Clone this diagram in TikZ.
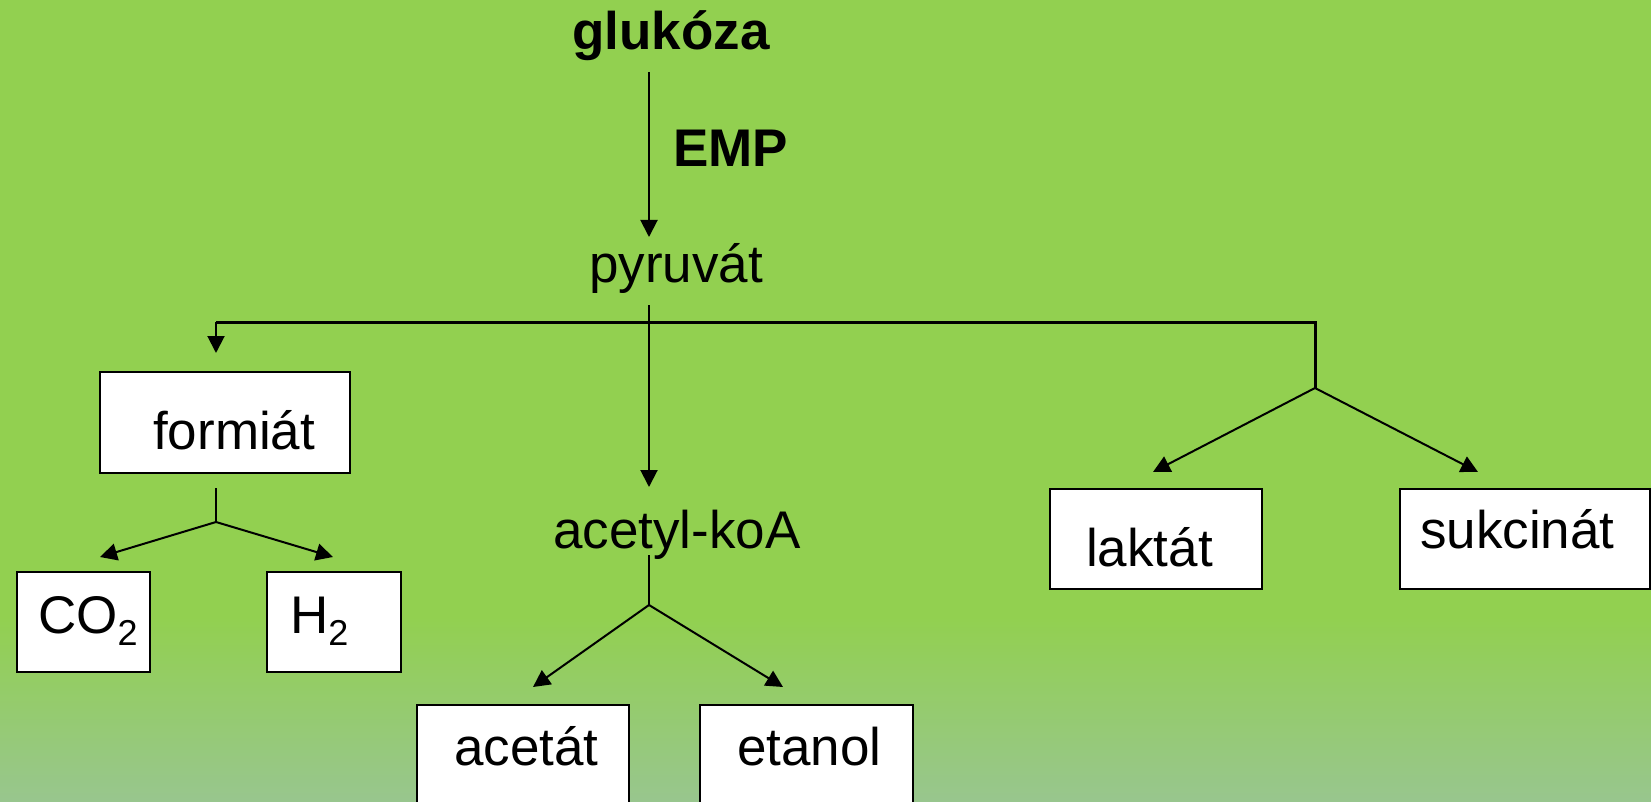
\documentclass[tikz,border=0pt]{standalone}
\usepackage{fontspec}
\setmainfont{Liberation Sans}
\usetikzlibrary{arrows.meta}
\definecolor{leafgreen}{RGB}{146,208,80}
\definecolor{sagegreen}{RGB}{152,198,142}
\newcommand{\fermfont}{\fontsize{53}{63}\selectfont}
\newcommand{\chemsub}[1]{\raisebox{-12pt}{\fontsize{36}{40}\selectfont #1}}
\tikzset{
    ferm/chart/.style={x=1pt, y=-1pt, font=\fermfont},
    ferm/word/.style={anchor=base west, inner sep=0pt},
    ferm/title/.style={ferm/word, font=\fermfont\bfseries},
    ferm/cell/.style={rectangle, draw=black, fill=white, line width=2pt, anchor=north west, inner sep=0pt},
    ferm/arrow/.style={-{Triangle[length=17pt, width=17pt]}, line width=2pt, draw=black},
    ferm/line/.style={line width=2pt, draw=black},
    ferm/bar/.style={line width=3pt, draw=black}
}

\begin{document}
\begin{tikzpicture}[ferm/chart]
    \useasboundingbox (0,0) rectangle (1651,802);
    \clip (0,0) rectangle (1651,802);
    \fill[leafgreen] (0,0) rectangle (1651,802);
    \shade[top color=leafgreen, bottom color=sagegreen] (0,617) rectangle (1651,802);
    % boxes
    \node[ferm/cell, minimum width=250, minimum height=101] (formiatbox) at (99,371) {};
    \node[ferm/cell, minimum width=133, minimum height=100] (co2box) at (16,571) {};
    \node[ferm/cell, minimum width=134, minimum height=100] (h2box) at (266,571) {};
    \node[ferm/cell, minimum width=212, minimum height=104] (acetatbox) at (416,704) {};
    \node[ferm/cell, minimum width=213, minimum height=104] (etanolbox) at (699,704) {};
    \node[ferm/cell, minimum width=212, minimum height=100] (laktatbox) at (1049,488) {};
    \node[ferm/cell, minimum width=250, minimum height=100] (sukcinatbox) at (1399,488) {};
    % texts
    \node[ferm/title] (glukoza) at (572,50) {glukóza};
    \node[ferm/title] (emp) at (673,167) {EMP};
    \node[ferm/word] (pyruvat) at (589,283) {pyruvát};
    \node[ferm/word] (acetylkoa) at (553,548) {acetyl-koA};
    \node[ferm/word] (formiat) at (153,449) {formiát};
    \node[ferm/word] (co2) at (38,633) {CO\chemsub{2}};
    \node[ferm/word] (h2) at (290,633) {H\chemsub{2}};
    \node[ferm/word] (acetat) at (454,765) {acetát};
    \node[ferm/word] (etanol) at (737,765) {etanol};
    \node[ferm/word] (laktat) at (1086,566) {laktát};
    \node[ferm/word] (sukcinat) at (1420,548) {sukcinát};
    % connector ends
    \coordinate (glukozaout) at (649,72);
    \coordinate (pyruvatin) at (649,237);
    \coordinate (pyruvatout) at (649,305);
    \coordinate (acetylin) at (649,487);
    \coordinate (acetylout) at (649,555);
    \coordinate (acetylfork) at (649,605);
    \coordinate (splitleft) at (216,322);
    \coordinate (splitright) at (1315,322);
    \coordinate (rightfork) at (1315,388);
    \coordinate (formiatin) at (216,353);
    \coordinate (formiatout) at (216,488);
    \coordinate (formiatfork) at (216,522);
    \coordinate (co2in) at (100,557);
    \coordinate (h2in) at (333,557);
    \coordinate (acetatin) at (533,687);
    \coordinate (etanolin) at (783,687);
    \coordinate (laktatin) at (1153,472);
    \coordinate (sukcinatin) at (1478,472);
    % connectors
    \draw[ferm/bar] (splitleft) -- (splitright) -- (rightfork);
    \draw[ferm/line] (formiatout) -- (formiatfork);
    \draw[ferm/line] (acetylout) -- (acetylfork);
    \foreach \source/\target in {glukozaout/pyruvatin,pyruvatout/acetylin,splitleft/formiatin,formiatfork/co2in,formiatfork/h2in,acetylfork/acetatin,acetylfork/etanolin,rightfork/laktatin,rightfork/sukcinatin}
        \draw[ferm/arrow] (\source) -- (\target);
\end{tikzpicture}
\end{document}
